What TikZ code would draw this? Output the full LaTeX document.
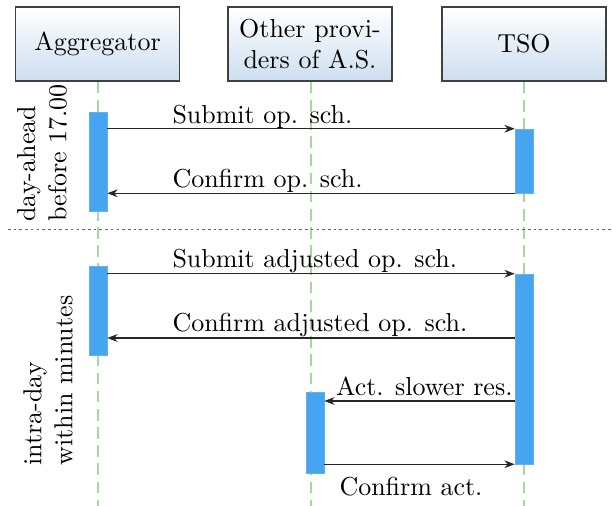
\documentclass[tikz,border=0pt]{standalone}
\usetikzlibrary{arrows.meta,fit,calc}
\definecolor{barblue}{RGB}{70,165,240}
\definecolor{lifegreen}{RGB}{168,214,160}
\definecolor{boxblue}{RGB}{205,222,240}
\begin{document}
\begin{tikzpicture}[x=0.385pt,y=-0.385pt,
  actor/.style={draw=black!75, line width=0.5pt, top color=white, bottom color=boxblue,
    minimum width=63.1pt, minimum height=28.5pt, align=center, inner sep=2pt},
  lifeline/.style={draw=lifegreen, line width=0.6pt, dash pattern=on 4.5pt off 2.5pt},
  actbar/.style={fill=barblue, draw=barblue!85!white, line width=0.2pt, inner sep=0pt},
  msg/.style={draw=black!85, line width=0.45pt, -{Stealth[length=4pt,width=3pt]}},
  lbl/.style={inner sep=0pt},
  period/.style={rotate=90, align=left, inner sep=0pt, anchor=west}]
\useasboundingbox (0,0) rectangle (612,506);

% actors
\node[actor] (agg) at (97.5,44) {Aggregator};
\node[actor] (oth) at (310,44) {Other provi-\\ders of A.S.};
\node[actor] (tso) at (524,44) {TSO};

% lifelines
\coordinate (aggEnd) at (98,506);
\coordinate (othEnd) at (311,506);
\coordinate (tsoEnd) at (524,506);
\draw[lifeline] (agg.south -| aggEnd) -- (aggEnd);
\draw[lifeline] (oth.south -| othEnd) -- (othEnd);
\draw[lifeline] (tso.south -| tsoEnd) -- (tsoEnd);

% separator
\coordinate (sepL) at (8,229);
\coordinate (sepR) at (612,229);
\draw[black!60, line width=0.35pt, dash pattern=on 1pt off 1.2pt] (sepL) -- (sepR);

% activation bars
\node[actbar, fit={(89,112)(107,211)}] (a1) {};
\node[actbar, fit={(515,129)(533,193)}] (t1) {};
\node[actbar, fit={(89,266)(107,355)}] (a2) {};
\node[actbar, fit={(515,274)(533,464)}] (t2) {};
\node[actbar, fit={(306,392)(324,473)}] (o1) {};

% message rows
\coordinate (m4) at (0,338);
\coordinate (m5) at (0,401);

\draw[msg] (a1.east |- t1.north) -- (t1.north west);
\draw[msg] (t1.south west) -- (a1.east |- t1.south);
\draw[msg] (a2.east |- t2.north) -- (t2.north west);
\draw[msg] (t2.west |- m4) -- (a2.east |- m4);
\draw[msg] (t2.west |- m5) -- (o1.east |- m5);
\draw[msg] (o1.east |- t2.south) -- (t2.south west);

% labels
\node[lbl, anchor=base west] (l1) at (172,123) {Submit op. sch.};
\node[lbl, anchor=base west] (l2) at (172,187) {Confirm op. sch.};
\node[lbl, anchor=base west] (l3) at (172,267) {Submit adjusted op. sch.};
\node[lbl, anchor=base west] (l4) at (172,331) {Confirm adjusted op. sch.};
\node[lbl, anchor=base east] (l5) at (513,395) {Act. slower res.};
\node[lbl, anchor=base west] (l6) at (339,495) {Confirm act.};

% periods
\node[period] (p1) at (42,222) {day-ahead\\before 17.00};
\node[period] (p2) at (48,466) {intra-day\\within minutes};
\end{tikzpicture}
\end{document}
